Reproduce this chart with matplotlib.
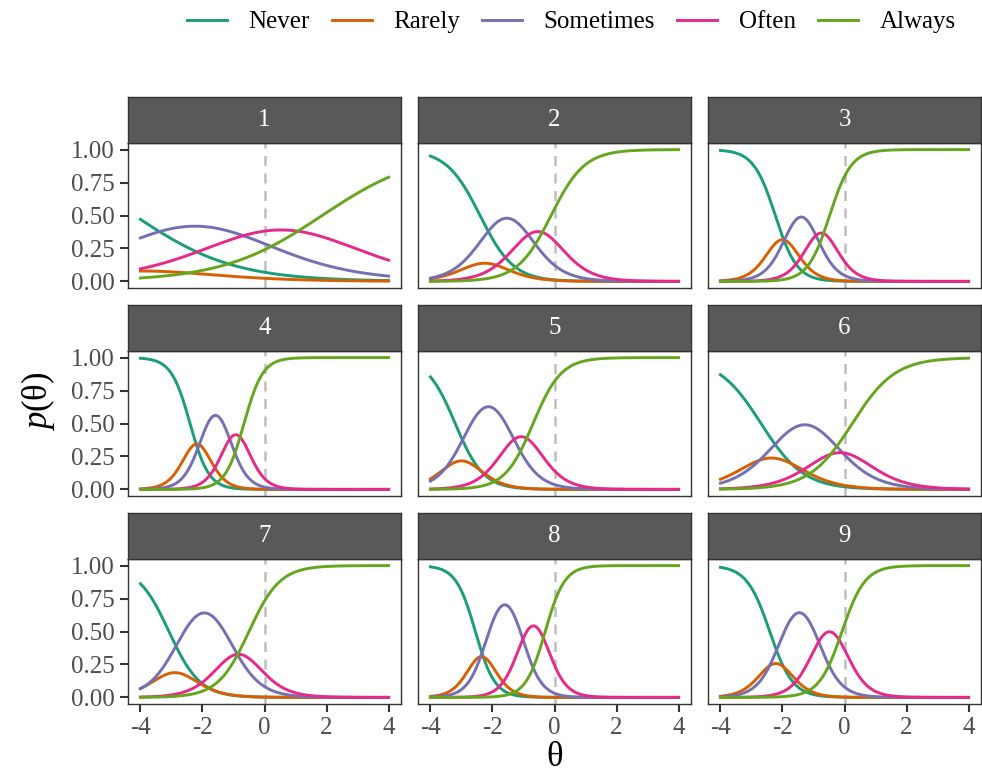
import numpy as np
import matplotlib
matplotlib.use("Agg")
import matplotlib.pyplot as plt
from matplotlib.lines import Line2D

plt.rcParams['font.family'] = ['Liberation Serif', 'DejaVu Serif']
plt.rcParams['mathtext.fontset'] = 'custom'
plt.rcParams['mathtext.rm'] = 'Liberation Serif'
plt.rcParams['mathtext.it'] = 'Liberation Serif:italic'
plt.rcParams['axes.unicode_minus'] = False

# graded response model item parameters
items = ["1", "2", "3", "4", "5", "6", "7", "8", "9"]
categories = ["Never", "Rarely", "Sometimes", "Often", "Always"]
colors = ["#1B9E77", "#D95F02", "#7570B3", "#E7298A", "#66A61E"]

discrimination = [0.62, 1.85, 2.85, 3.3, 2.2, 1.45, 2.0, 3.2, 2.7]
b1 = [-4.19, -2.40, -2.23, -2.40, -3.20, -2.69, -3.08, -2.55, -2.41]
b2 = [-3.68, -2.10, -1.77, -1.965, -2.80, -2.02, -2.70, -2.15, -2.02]
b3 = [-0.80, -0.97, -1.02, -1.195, -1.46, -0.54, -1.18, -1.06, -0.89]
b4 = [1.86, -0.11, -0.48, -0.66, -0.69, 0.25, -0.50, -0.30, -0.08]

x_ticks = [-4, -2, 0, 2, 4]
y_ticks = [0.0, 0.25, 0.5, 0.75, 1.0]

theta = np.linspace(-4, 4, 241)


def category_probs(a, bs):
    star = [np.ones_like(theta)]
    for b in bs:
        star.append(1.0 / (1.0 + np.exp(-a * (theta - b))))
    star.append(np.zeros_like(theta))
    return [star[k] - star[k + 1] for k in range(len(bs) + 1)]


W, H = 982, 774
fig = plt.figure(figsize=(W / 100, H / 100), dpi=100)


def box(x, y, w, h):
    return [x / W, 1 - (y + h) / H, w / W, h / H]


col_left = [128, 418, 708]
plot_top = [143, 351, 559]
pw, ph, sh = 273, 145, 46
edge = "#333333"
tick_col = "#4D4D4D"

for i, item in enumerate(items):
    r, c = divmod(i, 3)
    x0, y0 = col_left[c], plot_top[r]

    ax = fig.add_axes(box(x0, y0, pw, ph))
    probs = category_probs(discrimination[i], [b1[i], b2[i], b3[i], b4[i]])
    ax.axvline(0, color="#BEBEBE", lw=1.8, ls=(0, (4, 3)), zorder=1)
    for p, col in zip(probs, colors):
        ax.plot(theta, p, color=col, lw=2.1, zorder=2)
    ax.set_xlim(-4.4, 4.4)
    ax.set_ylim(-0.05, 1.05)
    ax.set_xticks(x_ticks)
    ax.set_yticks(y_ticks)
    for s in ax.spines.values():
        s.set_color(edge)
        s.set_linewidth(1.0)
    ax.tick_params(length=5.5, width=1.5, color=edge, labelcolor=tick_col,
                   labelsize=18, pad=4)
    if r == 2:
        ax.set_xticklabels([str(t) for t in x_ticks])
    else:
        ax.tick_params(axis="x", bottom=False, labelbottom=False)
    if c == 0:
        ax.set_yticklabels(["0.00", "0.25", "0.50", "0.75", "1.00"])
    else:
        ax.tick_params(axis="y", left=False, labelleft=False)

    sax = fig.add_axes(box(x0, y0 - sh, pw, sh))
    sax.set_facecolor("#595959")
    sax.set_xticks([])
    sax.set_yticks([])
    for s in sax.spines.values():
        s.set_color(edge)
        s.set_linewidth(1.0)
    sax.text(0.5, 0.5, item, color="white", fontsize=18,
             ha="center", va="center", transform=sax.transAxes)

fig.text(38 / W, 1 - 401 / H, "$p$(θ)", rotation=90, fontsize=25,
         ha="center", va="center")
fig.text(555 / W, 1 - 758 / H, "θ", fontsize=25, ha="center", va="center")

handles = [Line2D([], [], color=col, lw=2.1) for col in colors]
fig.legend(handles, categories, loc="center right", ncol=5, frameon=False,
           fontsize=18, bbox_to_anchor=(978 / W, 1 - 22 / H),
           handlelength=1.6, handletextpad=0.85, columnspacing=0.9)

fig.savefig("out.png", dpi=100)
